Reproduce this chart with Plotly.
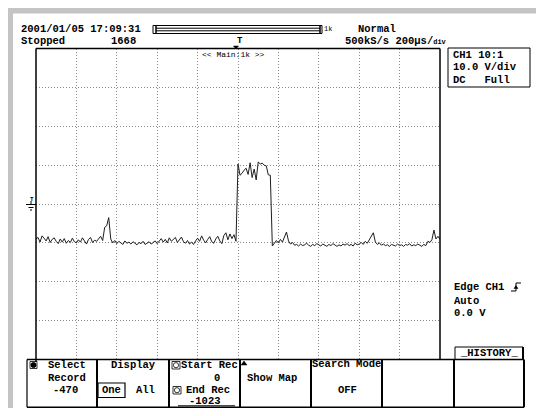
import plotly.graph_objects as go

# page body has an 8px margin; figure sized to fit the window exactly
OFF = 8
W, H = 544 - 2 * OFF, 416 - 2 * OFF

# ---------------- data (CH1, volts) ----------------
sample_interval_us = 10
record_start_us = -1000
pre_trigger_volts = [
    -9.0, -8.6, -9.8, -8.2, -8.8, -9.5, -8.4, -9.9, -9.1, -8.7,
    -9.6, -10.2, -9.0, -9.8, -8.9, -10.1, -9.4, -9.9, -8.8, -9.7,
    -10.0, -9.2, -9.8, -8.7, -9.5, -10.3, -9.1, -8.6, -9.9, -9.3,
    -9.6, -9.0, -8.3, -9.4, -6.0, -5.6, -3.5, -9.0, -10.0, -9.4,
    -10.2, -9.6, -9.9, -10.4, -9.5, -10.1, -9.8, -10.3, -9.7, -10.0,
    -10.5, -9.9, -10.2, -9.6, -10.4, -10.1, -9.7, -10.3, -10.0, -9.5,
    -10.2, -9.4, -8.9, -9.8, -9.1, -10.0, -8.7, -9.6, -9.2, -8.6,
    -9.9, -9.3, -8.5, -9.7, -10.1, -9.4, -10.3, -9.8, -10.4, -9.5,
    -8.8, -9.6, -8.2, -9.3, -10.0, -9.1, -8.4, -9.7, -10.1, -9.0,
    -8.3, -9.5, -10.2, -8.1, -7.4, -9.2, -7.7, -8.9, -7.9, -9.6,
]
pulse_volts = [
    10.3, 7.4, 7.9, 8.7, 9.2, 7.6, 10.6, 6.8, 9.0, 6.2,
    10.8, 10.3, 10.5, 10.0, 9.8, 7.5, 7.4,
]
post_pulse_volts = [
    -10.8, -10.2, -9.4, -10.0, -9.1, -9.8, -8.6, -7.2, -9.5, -10.3,
    -9.9, -10.6, -10.4, -10.8, -10.3, -10.7, -10.5, -10.1, -10.6, -10.9,
    -10.4, -10.7, -10.2, -10.6, -10.8, -10.3, -10.5, -10.9, -10.4, -10.7,
    -10.2, -10.6, -10.9, -10.5, -10.8, -10.3, -10.6, -10.2, -10.7, -10.4,
    -10.8, -10.1, -10.5, -10.3, -9.9, -10.4, -9.6, -10.1, -9.3, -8.5,
    -7.4, -9.8, -10.4, -10.0, -10.6, -10.3, -10.7, -10.5, -10.9, -10.4,
    -10.6, -10.8, -10.3, -10.7, -10.5, -10.9, -10.4, -10.6, -10.2, -10.8,
    -10.5, -10.7, -10.3, -10.6, -10.9, -10.4, -10.7, -9.6, -9.9, -9.2,
    -6.7, -9.0, -8.3, -9.1,
]
ch1_volts = pre_trigger_volts + pulse_volts + post_pulse_volts
time_us = [record_start_us + sample_interval_us * i for i in range(len(ch1_volts))]

time_per_div_us = 200
volts_per_div = 10
x_divs, y_divs = 10, 8

header_lines = ["2001/01/05 17:09:31", "Stopped"]
record_no = "1668"
ch_info = ["CH1 10:1", "10.0 V/div", "DC   Full"]
trig_info = ["Edge CH1", "Auto", "0.0 V"]

# ---------------- geometry helpers (screen pixel -> paper) ----------------
GL, GR, GT, GB = 36, 440, 48.5, 359.5
MONO = "Liberation Mono"

shapes, annos = [], []


def X(x):
    return (x - OFF) / W


def Y(y):
    return 1 - (y - OFF) / H


def line(x0, y0, x1, y1, w=1, color="black"):
    shapes.append(dict(type="line", xref="paper", yref="paper", x0=X(x0), y0=Y(y0),
                       x1=X(x1), y1=Y(y1), line=dict(color=color, width=w)))


def rect(x0, y0, x1, y1, lw=1, color="black", fill="rgba(0,0,0,0)"):
    shapes.append(dict(type="rect", xref="paper", yref="paper", x0=X(x0), y0=Y(y0),
                       x1=X(x1), y1=Y(y1), line=dict(color=color, width=lw), fillcolor=fill))


def circle(cx, cy, r, lw=1, fill="rgba(0,0,0,0)"):
    shapes.append(dict(type="circle", xref="paper", yref="paper", x0=X(cx - r), y0=Y(cy + r),
                       x1=X(cx + r), y1=Y(cy - r), line=dict(color="black", width=lw), fillcolor=fill))


def poly(pts, lw=1, fill=None, close=False):
    d = "M " + " L ".join(f"{X(a):.5f},{Y(b):.5f}" for a, b in pts)
    if close:
        d += " Z"
    s = dict(type="path", xref="paper", yref="paper", path=d, line=dict(color="black", width=lw))
    if fill:
        s["fillcolor"] = fill
    shapes.append(s)


def txt(x, y, s, size=10.5, anchor="left", bold=True):
    annos.append(dict(x=X(x), y=Y(y), xref="paper", yref="paper", showarrow=False,
                      text=(f"<b>{s}</b>" if bold else s), xanchor=anchor, yanchor="middle",
                      borderpad=0, font=dict(family=MONO, size=size, color="black")))


# ---------------- frame / bezel ----------------
GRAY = "#c4c4c4"
rect(8, 8, 536, 13.5, lw=0, fill=GRAY)
rect(8, 8, 13, 408, lw=0, fill=GRAY)

# header
txt(20, 29, header_lines[0])
txt(20, 41, header_lines[1])
txt(137, 41, record_no, anchor="right")
# record bar
rect(153, 25.5, 156, 33.5, lw=1)
rect(156, 25.5, 320, 33.5, lw=1)
line(156, 28.2, 320, 28.2)
line(156, 30.8, 320, 30.8)
rect(320, 25.5, 322, 33.5, lw=1)
txt(323, 29, "1k", size=7, bold=False)
txt(357, 29, "Normal")
txt(344, 41, "500kS/s 200μs/<span style='font-size:7px'>div</span>")
# trigger position marker
txt(236, 41, "T", size=9)
poly([(233.5, 46), (238.5, 46), (236, 49)], lw=0.5, fill="black", close=True)
txt(233, 55, "&lt;&lt; Main:1k &gt;&gt;", size=8, anchor="center", bold=False)

# channel box
rect(448, 48, 530, 87, lw=1)
for i, s in enumerate(ch_info):
    txt(452, 55 + 12.5 * i, s)

# trigger info
txt(453, 287, trig_info[0])
txt(453, 301, trig_info[1])
txt(453, 313, trig_info[2])
poly([(511, 291), (516, 291), (516, 283), (521, 283)], lw=1)
poly([(514, 288.5), (518, 288.5), (516, 285.5)], lw=0.5, fill="black", close=True)

# ground / level marker
txt(29, 199, "T", size=6)
line(26, 204.5, 36, 204.5)
line(28.5, 207.5, 33.5, 207.5)
line(30, 210, 32, 210)
line(31, 201, 31, 204.5)

# waveform frame
line(GL, GT, GL, 362, w=1.5)
line(GL, GT, GR, GT, w=1.5)
line(GR, GT, GR, GB, w=1.5)

# ---------------- soft-key menu ----------------
MT, MB = 359.5, 407.2
line(27, MT, 524, MT, w=1.5)
line(27, MB, 524, MB, w=1.5)
for xv in [27, 97, 169, 240, 311, 382, 454, 524]:
    line(xv, MT, xv, MB, w=2 if xv not in (27,) else 1.2)

# box 1
rect(30, 361.5, 37, 368.5, lw=0.8)
circle(33.5, 365, 2.6, lw=0.8, fill="black")
txt(47, 365, "Select")
txt(47, 378, "Record")
txt(65, 390, "-470", anchor="center")
# box 2
txt(133, 365, "Display", anchor="center")
rect(98, 383, 125, 397.5, lw=1.2)
txt(111.5, 390, "One", anchor="center")
txt(145, 390, "All", anchor="center")
# box 3
rect(172, 361.5, 180, 369, lw=0.8)
circle(176, 365.2, 2.6, lw=0.8)
txt(180, 365, "Start Rec")
txt(221, 378, "0", anchor="right")
rect(173, 386.5, 181, 394, lw=0.8)
circle(177, 390.2, 2.6, lw=0.8)
txt(185, 390, "End Rec")
txt(205, 401, "-1023", anchor="center")
line(178, 405.8, 235, 405.8, w=1)
# box 4
poly([(241, 365), (247, 365), (244, 361)], lw=0.5, fill="black", close=True)
txt(272, 378, "Show Map", anchor="center")
# box 5
txt(346.5, 364, "Search Mode", anchor="center")
txt(347, 390, "OFF", anchor="center")
# history tab
line(455, 347, 523, 347, w=1)
line(455, 347, 455, MT, w=1)
line(523, 347, 523, MT, w=2)
txt(489, 353, "_HISTORY_", anchor="center")

# ---------------- figure ----------------
fig = go.Figure()
fig.add_trace(go.Scatter(x=time_us, y=ch1_volts, mode="lines",
                         line=dict(color="#1e1e1e", width=1), hoverinfo="skip"))

half_x = time_per_div_us * x_divs / 2
half_y = volts_per_div * y_divs / 2
axis_common = dict(showticklabels=False, ticks="", zeroline=False, showline=False,
                   showgrid=True, gridcolor="#8a8a8a", gridwidth=1, griddash="1px,2px",
                   fixedrange=True)
fig.update_layout(
    width=W, height=H, margin=dict(l=0, r=0, t=0, b=0),
    paper_bgcolor="white", plot_bgcolor="white", showlegend=False,
    xaxis=dict(range=[-half_x, half_x], dtick=time_per_div_us, tick0=0,
               domain=[X(GL), X(GR)], **axis_common),
    yaxis=dict(range=[-half_y, half_y], dtick=volts_per_div, tick0=0,
               domain=[Y(GB), Y(GT)], **axis_common),
    shapes=shapes, annotations=annos,
)
fig.write_html("out.html")
